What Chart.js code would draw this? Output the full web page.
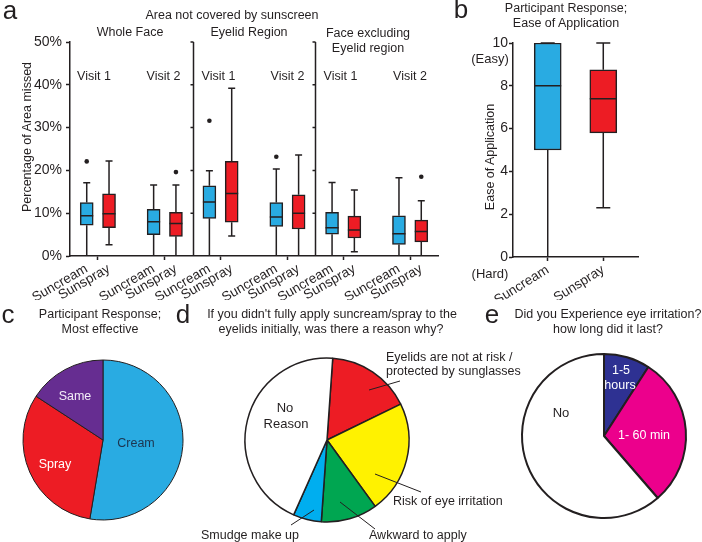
<!DOCTYPE html>
<html>
<head>
<meta charset="utf-8">
<script src="https://cdn.jsdelivr.net/npm/chart.js@4"></script>
<style>
  body { margin: 0; background: #fff; }
  #wrap { position: relative; width: 702px; height: 542px; overflow: hidden; font-family: 'Liberation Sans', Arial, sans-serif; color: #231f20; }
  canvas { position: absolute; }
  .t { position: absolute; white-space: nowrap; line-height: 1; }
  svg { position: absolute; left: 0; top: 0; }
</style>
</head>
<body>
<div id="wrap">
  <canvas id="boxA" width="450" height="300" style="left:0;top:0"></canvas>
  <canvas id="boxB" width="262" height="300" style="left:440px;top:0"></canvas>
  <canvas id="pieC" width="180" height="180" style="left:13px;top:350px"></canvas>
  <canvas id="pieD" width="180" height="180" style="left:237px;top:350px"></canvas>
  <canvas id="pieE" width="180" height="180" style="left:514px;top:346px"></canvas>
  <svg width="702" height="542">
    <g stroke="#231f20" stroke-width="1">
      <line x1="369" y1="390" x2="400" y2="381"/>
      <line x1="375" y1="474" x2="421" y2="492"/>
      <line x1="340" y1="502" x2="375" y2="529"/>
      <line x1="314" y1="510" x2="291" y2="525"/>
    </g>
  </svg>
</div>
<script>
Chart.defaults.font.family = "'Liberation Sans', Arial, sans-serif";
Chart.defaults.color = '#231f20';

const blue = '#29abe2'
const red = '#ed1c24'

// panel a : area not covered, 12 boxes (per region: V1 cream, V1 spray, V2 cream, V2 spray)
const regions = ['Whole Face', 'Eyelid Region', 'Face excluding Eyelid region']
const products = ['Suncream', 'Sunspray', 'Suncream', 'Sunspray', 'Suncream', 'Sunspray', 'Suncream', 'Sunspray', 'Suncream', 'Sunspray', 'Suncream', 'Sunspray']
const lowA = [0, 2.6, 0, 0, 0, 4.7, 0, 0, 0, 1.0, 0, 0]
const q1A = [7.2, 6.6, 5.0, 4.6, 8.8, 7.9, 6.9, 6.3, 5.1, 4.2, 2.7, 3.3]
const medA = [9.4, 9.9, 8.0, 7.6, 12.6, 14.6, 9.1, 10.0, 6.6, 6.1, 5.2, 5.7]
const q3A = [12.5, 14.5, 10.9, 10.2, 16.4, 22.1, 12.5, 14.3, 10.2, 9.3, 9.4, 8.4]
const highA = [17.1, 22.2, 16.6, 16.6, 19.9, 39.2, 20.3, 23.6, 17.2, 15.4, 18.3, 12.9]
const outA = [22.1, null, null, 19.6, 31.6, null, 23.2, null, null, null, null, 18.5]
const yTicksA = [0, 10, 20, 30, 40, 50]

// panel b : ease of application (0 hard .. 10 easy)
const productsB = ['Suncream', 'Sunspray']
const lowB = [0, 2.3]
const q1B = [5.0, 5.8]
const medB = [8.0, 7.4]
const q3B = [10, 8.75]
const highB = [10, 10]

// panel c : most effective
const labelsC = ['Cream', 'Spray', 'Same']
const countsC = [10, 6, 3]

// panel d : reason for not applying to eyelids
const labelsD = ['Eyelids are not at  risk / protected by sunglasses', 'Risk of eye irritation', 'Awkward to apply', 'Smudge make up', 'No Reason']
const countsD = [3, 4, 2, 1, 8]

// panel e : eye irritation
const labelsE = ['1-5 hours', '1- 60 min', 'No']
const countsE = [4, 13, 27]

// slot layout: 11 category slots per region, boxes on slots 1,3,7,9
const slotsA = [1, 3, 7, 9, 12, 14, 18, 20, 23, 25, 29, 31]
const nSlots = 33
function spread(vals, slots, n) {
    let out = new Array(n).fill(null)
    slots.forEach((s, i) => out[s] = vals[i])
    return out
}

const boxParts = {
    id: 'boxParts',
    beforeDatasetsDraw(chart, args, o) {
        const {ctx} = chart
        const y = chart.scales.y
        const bars = chart.getDatasetMeta(0).data
        ctx.save()
        ctx.strokeStyle = '#231f20'
        ctx.lineWidth = 1.5
        o.slots.forEach((s, i) => {
            const x = bars[s].x
            ctx.beginPath()
            ctx.moveTo(x, y.getPixelForValue(o.low[i]))
            ctx.lineTo(x, y.getPixelForValue(o.q1[i]))
            ctx.moveTo(x, y.getPixelForValue(o.q3[i]))
            ctx.lineTo(x, y.getPixelForValue(o.high[i]))
            ctx.stroke()
        })
        ctx.restore()
    },
    afterDatasetsDraw(chart, args, o) {
        const {ctx, chartArea} = chart
        const y = chart.scales.y, xs = chart.scales.x
        const bars = chart.getDatasetMeta(0).data
        ctx.save()
        ctx.strokeStyle = '#231f20'
        ctx.lineWidth = 1.5
        o.slots.forEach((s, i) => {
            const x = bars[s].x, half = bars[s].width / 2
            ctx.beginPath()
            ctx.moveTo(x - o.cap, y.getPixelForValue(o.high[i]))
            ctx.lineTo(x + o.cap, y.getPixelForValue(o.high[i]))
            if (o.low[i] > 0) {
                ctx.moveTo(x - o.cap, y.getPixelForValue(o.low[i]))
                ctx.lineTo(x + o.cap, y.getPixelForValue(o.low[i]))
            }
            ctx.moveTo(x - half, y.getPixelForValue(o.med[i]))
            ctx.lineTo(x + half, y.getPixelForValue(o.med[i]))
            ctx.stroke()
        })
        // region separators
        ;(o.separators || []).forEach(b => {
            const x = Math.round(xs.getPixelForValue(b - 0.5)) + 0.5
            ctx.beginPath()
            ctx.moveTo(x, chartArea.top)
            ctx.lineTo(x, chartArea.bottom)
            yTicksA.slice(1).forEach(v => {
                const py = y.getPixelForValue(v)
                ctx.moveTo(x - 3, py)
                ctx.lineTo(x, py)
            })
            ctx.stroke()
        })
        ctx.restore()
    }
}

function boxChart(id, o) {
    return new Chart(document.getElementById(id), {
        type: 'bar',
        data: {
            labels: o.labels,
            datasets: [{
                data: o.boxes,
                backgroundColor: o.colors,
                borderColor: '#231f20',
                borderWidth: 1.5,
                borderSkipped: false,
                barThickness: o.thick,
                order: 1
            }, {
                type: 'line',
                data: o.outliers,
                showLine: false,
                pointRadius: 2.3,
                pointBackgroundColor: '#231f20',
                pointBorderWidth: 0,
                order: 0
            }]
        },
        options: {
            responsive: false,
            animation: false,
            layout: {padding: o.padding},
            plugins: {
                legend: {display: false},
                tooltip: {enabled: false},
                boxParts: o.parts
            },
            scales: {
                x: {
                    afterFit: s => { s.height = o.xHeight },
                    border: {color: '#231f20', width: 1.5},
                    grid: {
                        offset: false,
                        drawOnChartArea: false,
                        tickLength: 4,
                        tickWidth: 1.5,
                        tickColor: c => o.tickIdx.includes(c.index) ? '#231f20' : 'rgba(0,0,0,0)'
                    },
                    ticks: {
                        autoSkip: false,
                        minRotation: o.rot,
                        maxRotation: o.rot,
                        padding: 1,
                        font: {size: 13.5}
                    }
                },
                y: {
                    min: o.min,
                    max: o.max,
                    afterFit: s => { s.width = o.yWidth },
                    border: {color: '#231f20', width: 1.5},
                    grid: {drawOnChartArea: false, tickLength: 4, tickWidth: 1.5, tickColor: '#231f20'},
                    ticks: {
                        stepSize: o.step,
                        padding: o.yPad,
                        font: {size: 14},
                        callback: o.fmt
                    }
                }
            }
        },
        plugins: [boxParts]
    })
}

// panel a
let labelsA = spread(products, slotsA, nSlots).map(v => v || '')
let boxesA = spread(q1A.map((v, i) => [v, q3A[i]]), slotsA, nSlots)
let colorsA = spread(products.map(p => p == 'Suncream' ? blue : red), slotsA, nSlots).map(c => c || blue)
boxChart('boxA', {
    labels: labelsA,
    boxes: boxesA,
    colors: colorsA,
    outliers: spread(outA, slotsA, nSlots),
    thick: 13,
    padding: {top: 42, right: 12, left: 0, bottom: 0},
    xHeight: 44,
    yWidth: 70,
    yPad: 4,
    rot: 30,
    min: 0, max: 50, step: 10,
    fmt: v => v + '%',
    tickIdx: [2, 8, 13, 19, 24, 30],
    parts: {slots: slotsA, low: lowA, q1: q1A, med: medA, q3: q3A, high: highA, cap: 3.5, separators: [11, 22]}
})

// panel b
const slotsB = [2, 6]
boxChart('boxB', {
    labels: spread(productsB, slotsB, 9).map(v => v || ''),
    boxes: spread(q1B.map((v, i) => [v, q3B[i]]), slotsB, 9),
    colors: spread([blue, red], slotsB, 9).map(c => c || blue),
    outliers: new Array(9).fill(null),
    thick: 27,
    padding: {top: 43, right: 64, left: 0, bottom: 0},
    xHeight: 43,
    yWidth: 73,
    yPad: 1,
    rot: 32,
    min: 0, max: 10, step: 2,
    fmt: v => v,
    tickIdx: slotsB,
    parts: {slots: slotsB, low: lowB, q1: q1B, med: medB, q3: q3B, high: highB, cap: 7}
})

function pieChart(id, labels, data, colors, radius, bw, rotation) {
    return new Chart(document.getElementById(id), {
        type: 'pie',
        data: {
            labels: labels,
            datasets: [{
                data: data,
                backgroundColor: colors,
                borderColor: '#231f20',
                borderWidth: bw,
                radius: radius,
                rotation: rotation
            }]
        },
        options: {
            responsive: false,
            animation: false,
            plugins: {legend: {display: false}, tooltip: {enabled: false}}
        }
    })
}
pieChart('pieC', labelsC, countsC, [blue, red, '#662d91'], 80, 1, 0)
pieChart('pieD', labelsD, countsD, [red, '#fff200', '#00a651', '#00aeef', '#ffffff'], 82, 1.5, 4)
pieChart('pieE', labelsE, countsE, ['#2e3192', '#ec008c', '#ffffff'], 82, 2, 0)

// text annotations: [text, x, y, size, align, color, rotate]
const notes = [
    ['a', 10, 10, 26, 'c'],
    ['Area not covered by sunscreen', 232, 15, 12.5, 'c'],
    [regions[0], 130, 32, 12.5, 'c'],
    [regions[1], 249, 32, 12.5, 'c'],
    ['Face excluding', 368, 33, 12.5, 'c'],
    ['Eyelid region', 368, 48, 12.5, 'c'],
    ['Visit 1', 94, 76, 12.5, 'c'], ['Visit 2', 163.5, 76, 12.5, 'c'],
    ['Visit 1', 218.5, 76, 12.5, 'c'], ['Visit 2', 287.5, 76, 12.5, 'c'],
    ['Visit 1', 340.5, 76, 12.5, 'c'], ['Visit 2', 410, 76, 12.5, 'c'],
    ['Percentage of Area missed', 27, 137, 12.5, 'c', null, -90],
    ['b', 461, 9, 26, 'c'],
    ['Participant Response;', 566, 8, 12.5, 'c'],
    ['Ease of Application', 566, 23, 12.5, 'c'],
    ['Ease of Application', 490, 157, 12.5, 'c', null, -90],
    ['(Easy)', 490, 58, 13, 'c'],
    ['(Hard)', 490, 273, 13, 'c'],
    ['c', 8, 314, 26, 'c'],
    ['Participant Response;', 100, 314, 12.5, 'c'],
    ['Most effective', 100, 329, 12.5, 'c'],
    ['Same', 75, 396, 12.5, 'c', '#f2ecf7'],
    ['Cream', 136, 443, 12.5, 'c', '#1c3550'],
    ['Spray', 55, 464, 12.5, 'c', '#ffffff'],
    ['d', 183, 314, 26, 'c'],
    ["If you didn't fully apply suncream/spray to the", 332, 314, 12.5, 'c'],
    ['eyelids initially, was there a reason why?', 331, 329, 12.5, 'c'],
    ['No', 285, 407, 13, 'c'],
    ['Reason', 286, 423, 13, 'c'],
    ['Eyelids are not at  risk /', 386, 357, 12.5, 'l'],
    ['protected by sunglasses', 386, 371, 12.5, 'l'],
    ['Risk of eye irritation', 393, 501, 12.5, 'l'],
    ['Awkward to apply', 369, 535, 12.5, 'l'],
    ['Smudge make up', 201, 535, 12.5, 'l'],
    ['e', 492, 314, 26, 'c'],
    ['Did you Experience eye irritation?', 608, 314, 12.5, 'c'],
    ['how long did it last?', 608, 329, 12.5, 'c'],
    ['1-5', 621, 370, 12.5, 'c', '#ffffff'],
    ['hours', 620, 385, 12.5, 'c', '#ffffff'],
    ['1- 60 min', 644, 435, 12.5, 'c', '#ffffff'],
    ['No', 561, 412, 13, 'c']
]
const wrap = document.getElementById('wrap')
notes.forEach(([text, x, y, size, align, color, rot]) => {
    let d = document.createElement('div')
    d.className = 't'
    d.textContent = text
    d.style.left = x + 'px'
    d.style.top = y + 'px'
    d.style.fontSize = size + 'px'
    if (color) d.style.color = color
    let tx = align == 'c' ? '-50%' : '0'
    d.style.transform = 'translate(' + tx + ',-50%)' + (rot ? ' rotate(' + rot + 'deg)' : '')
    wrap.appendChild(d)
})
</script>
</body>
</html>
